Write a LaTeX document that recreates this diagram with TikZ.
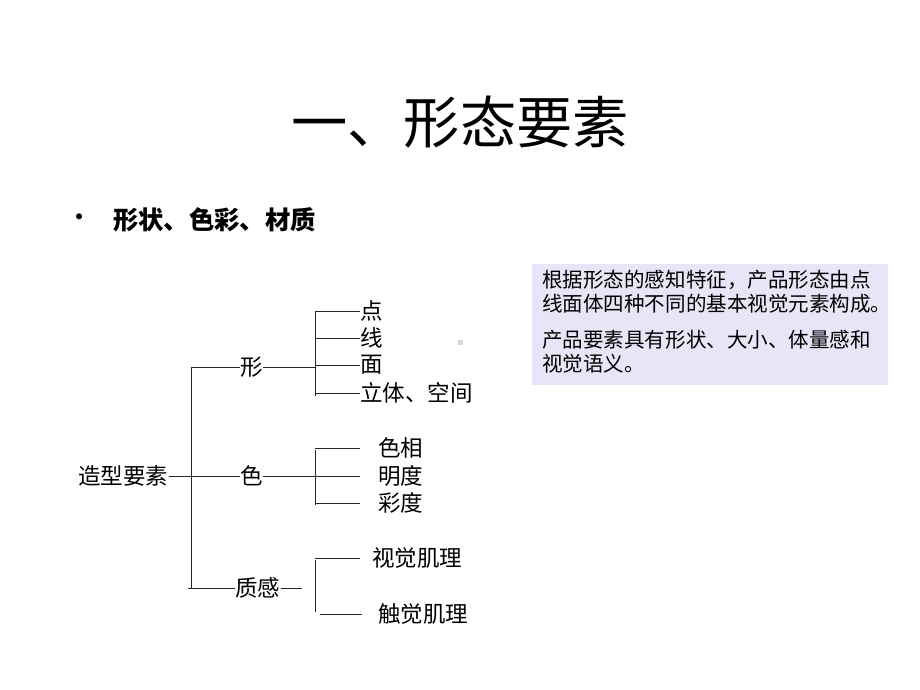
\documentclass[tikz,border=0pt]{standalone}
\usepackage{fontspec}
\setmainfont{Noto Sans CJK SC}
\usetikzlibrary{positioning}
\definecolor{notefill}{RGB}{230,230,248}
\tikzstyle{item}=[inner sep=0pt,anchor=west,font=\fontsize{16}{18}\selectfont]
\tikzstyle{branch}=[draw=black!85,line width=0.7pt]
\tikzstyle{notetext}=[inner sep=0pt,anchor=north west,align=left,font=\fontsize{14.6}{17.2}\selectfont]

\begin{document}
\begin{tikzpicture}[x=0.025cm,y=-0.025cm]
  \useasboundingbox (0,0) rectangle (920,690);
  % title
  \node[inner sep=0pt,font=\fontsize{40}{44}\selectfont] (title) at (460,122) {一、形态要素};
  \node[inner sep=0pt,font=\fontsize{20}{24}\selectfont] (bullet) at (80,221) {•};
  \node[inner sep=0pt,anchor=west,font=\fontsize{18}{22}\selectfont\bfseries] (topic) at (113,220) {形状、色彩、材质};
  % note box
  \node[fill=notefill,minimum width=8.9cm,minimum height=3.025cm,inner sep=0pt] (note) at (710,324.5) {};
  \node[notetext] (note1) at (542,270) {根据形态的感知特征，产品形态由点\\线面体四种不同的基本视觉元素构成。};
  \node[notetext] (note2) at (542,330) {产品要素具有形状、大小、体量感和\\视觉语义。};
  \fill[black!15] (458,340) rectangle (463,345);
  % first level
  \node[item] (root) at (78,476) {造型要素};
  \node[item] (xing) at (240,367) {形};
  \node[item] (se) at (240,476) {色};
  \node[item] (zhigan) at (235,588) {质感};
  \coordinate (ja) at (191,367);
  \coordinate (jb) at (191,588);
  \coordinate (jc) at (188,588);
  \draw[branch] (ja) -- (jb);
  \draw[branch] (root) -- (se);
  \draw[branch] (ja) -- (xing);
  \draw[branch] (jc) -- (zhigan);
  % second level: xing
  \node[item] (dian) at (360,311) {点};
  \node[item] (xian) at (360,338) {线};
  \node[item] (mian) at (360,365) {面};
  \node[item] (liti) at (360,393) {立体、空间};
  \coordinate (xa) at (315,312);
  \coordinate (xb) at (315,396);
  \draw[branch] (xa) -- (xb);
  \draw[branch] (xing) -- (xa |- xing);
  \foreach \n in {dian,xian,mian,liti}
    \draw[branch] (xa |- \n) -- (\n);
  % second level: se
  \node[item] (sexiang) at (378,448) {色相};
  \node[item] (mingdu) at (378,476) {明度};
  \node[item] (caidu) at (378,503) {彩度};
  \coordinate (sa) at (315,450);
  \coordinate (sb) at (315,505);
  \draw[branch] (sa) -- (sb);
  \draw[branch] (se) -- (sa |- se);
  \foreach \n in {sexiang,mingdu,caidu}
    \draw[branch,shorten >=0.45cm] (sa |- \n) -- (\n);
  % second level: zhigan
  \node[item] (shijue) at (372,558) {视觉肌理};
  \node[item] (chujue) at (378,614) {触觉肌理};
  \coordinate (za) at (315,560);
  \coordinate (zb) at (315,612);
  \coordinate (zc) at (302,588);
  \draw[branch] (za) -- (zb);
  \draw[branch] (zhigan) -- (zc);
  \draw[branch,shorten >=0.3cm] (za |- shijue) -- (shijue);
  \draw[branch,shorten >=0.4cm] ([xshift=0.125cm]za |- chujue) -- (chujue);
\end{tikzpicture}
\end{document}
